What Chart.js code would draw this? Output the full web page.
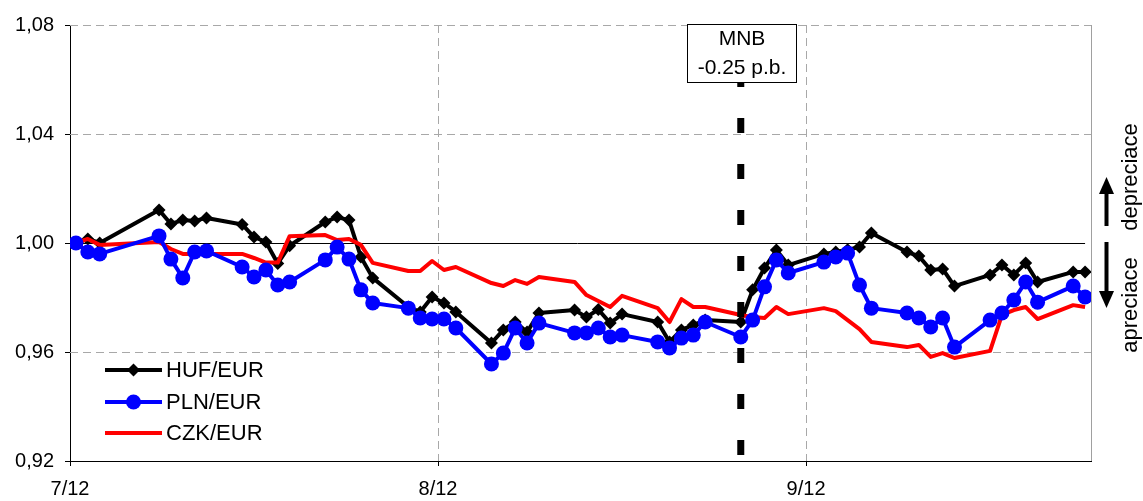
<!DOCTYPE html>
<html>
<head>
<meta charset="utf-8">
<script src="https://cdn.jsdelivr.net/npm/chart.js@4.4.1/dist/chart.umd.min.js"></script>
<style>
  html, body { margin: 0; padding: 0; background: #ffffff; }
  #wrap { width: 1143px; height: 501px; }
</style>
</head>
<body>
<div id="wrap"><canvas id="c" width="1143" height="501"></canvas></div>
<script>
const FONT = "'Liberation Sans', Arial, sans-serif";

// Trading days, counted from 1 July 2012 (= day 0)
const days = [1, 2, 3, 8, 9, 10, 11, 12, 15, 16, 17, 18, 19, 22, 23, 24, 25, 26,
  29, 30, 31, 32, 33, 36, 37, 38, 39, 40, 43, 44, 45, 46, 47, 50, 51, 52, 53, 54,
  57, 58, 59, 60, 61, 64, 65, 66, 67, 68, 71, 72, 73, 74, 75, 78, 79, 80, 81, 82, 85, 86];

// Exchange rates, index (2 July 2012 = 1)
const hufEur = [1.0000, 1.0015, 1.0000, 1.0121, 1.0070, 1.0084, 1.0081, 1.0092, 1.0068, 1.0022,
  1.0004, 0.9925, 0.9990, 1.0077, 1.0095, 1.0084, 0.9949, 0.9872,
  0.9765, 0.9747, 0.9802, 0.9780, 0.9747, 0.9633, 0.9681, 0.9710, 0.9673, 0.9743,
  0.9754, 0.9728, 0.9756, 0.9706, 0.9739, 0.9710, 0.9637, 0.9681, 0.9699, 0.9717,
  0.9710, 0.9828, 0.9908, 0.9974, 0.9919, 0.9960, 0.9967, 0.9975, 0.9985, 1.0037,
  0.9967, 0.9952, 0.9901, 0.9905, 0.9842, 0.9883, 0.9919, 0.9883, 0.9927, 0.9857, 0.9894, 0.9894];

const plnEur = [1.0000, 0.9967, 0.9960, 1.0026, 0.9941, 0.9872, 0.9967, 0.9971, 0.9912, 0.9875,
  0.9901, 0.9846, 0.9857, 0.9938, 0.9985, 0.9941, 0.9828, 0.9780,
  0.9761, 0.9725, 0.9721, 0.9721, 0.9688, 0.9556, 0.9596, 0.9688, 0.9633, 0.9706,
  0.9670, 0.9670, 0.9688, 0.9655, 0.9662, 0.9637, 0.9615, 0.9651, 0.9662, 0.9710,
  0.9655, 0.9717, 0.9839, 0.9938, 0.9890, 0.9930, 0.9949, 0.9963, 0.9846, 0.9761,
  0.9743, 0.9725, 0.9692, 0.9725, 0.9618, 0.9717, 0.9743, 0.9791, 0.9857, 0.9783, 0.9842, 0.9802];

const czkEur = [1.0000, 1.0015, 0.9993, 1.0004, 0.9978, 0.9960, 0.9960, 0.9960, 0.9960, 0.9945,
  0.9928, 0.9928, 1.0025, 1.0029, 1.0011, 1.0015, 0.9993, 0.9927,
  0.9897, 0.9897, 0.9934, 0.9901, 0.9912, 0.9853, 0.9842, 0.9864, 0.9850, 0.9875,
  0.9857, 0.9809, 0.9787, 0.9765, 0.9806, 0.9761, 0.9710, 0.9794, 0.9765, 0.9765,
  0.9736, 0.9728, 0.9725, 0.9765, 0.9739, 0.9761, 0.9750, 0.9717, 0.9684, 0.9637,
  0.9618, 0.9626, 0.9582, 0.9596, 0.9578, 0.9604, 0.9736, 0.9754, 0.9765, 0.9721, 0.9772, 0.9765];

const seriesNames = ['HUF/EUR', 'PLN/EUR', 'CZK/EUR'];

// Month boundaries on the day axis and their labels
const monthTicks = [0.5, 31.5, 62.5];
const monthLabels = ['7/12', '8/12', '9/12'];
const yTicks = [0.92, 0.96, 1.00, 1.04, 1.08];
const gridYValues = [0.96, 1.04, 1.08];
const baseValue = 1.00;

// Rate cut by the central bank
const mnbDay = 57;
const mnbText = ['MNB', '-0.25 p.b.'];
const sideLabels = ['depreciace', 'apreciace'];

const toPoints = vals => days.map((d, i) => ({ x: d, y: vals[i] }));

// Dashed grid, right frame and the 1,00 base line
const gridPlugin = {
  id: 'gridPlugin',
  beforeDatasetsDraw(chart) {
    const { ctx, chartArea: a, scales: { x, y } } = chart;
    ctx.save();
    ctx.strokeStyle = '#a8a8a8';
    ctx.lineWidth = 1;
    ctx.setLineDash([8, 5]);
    gridYValues.forEach(v => {
      const py = Math.round(y.getPixelForValue(v)) + 0.5;
      ctx.beginPath(); ctx.moveTo(a.left, py); ctx.lineTo(a.right, py); ctx.stroke();
    });
    monthTicks.slice(1).forEach(v => {
      const px = Math.round(x.getPixelForValue(v)) + 0.5;
      ctx.beginPath(); ctx.moveTo(px, a.top); ctx.lineTo(px, a.bottom); ctx.stroke();
    });
    ctx.setLineDash([]);
    ctx.strokeStyle = '#a0a0a0';
    const rx = Math.round(a.right) + 0.5;
    ctx.beginPath(); ctx.moveTo(rx, a.top); ctx.lineTo(rx, a.bottom); ctx.stroke();
    // base line at 1,00
    ctx.strokeStyle = '#000';
    const by = Math.round(y.getPixelForValue(baseValue)) + 0.5;
    ctx.beginPath();
    ctx.moveTo(a.left, by);
    ctx.lineTo(x.getPixelForValue(days[days.length - 1]), by);
    ctx.stroke();
    ctx.restore();
  }
};

// Rate-cut marker, side captions with arrows, and the legend
const notesPlugin = {
  id: 'notesPlugin',
  afterDatasetsDraw(chart) {
    const { ctx, chartArea: a, scales: { x } } = chart;
    ctx.save();

    // dashed marker line
    const lx = x.getPixelForValue(mnbDay);
    ctx.strokeStyle = '#000';
    ctx.lineWidth = 7;
    ctx.setLineDash([15, 31]);
    ctx.beginPath(); ctx.moveTo(lx, 72); ctx.lineTo(lx, a.bottom); ctx.stroke();
    ctx.setLineDash([]);

    // label box
    const bx = Math.round(lx) - 53.5, bw = 109, by = a.top - 0.5, bh = 58;
    ctx.fillStyle = '#fff';
    ctx.fillRect(bx, by, bw, bh);
    ctx.lineWidth = 1;
    ctx.strokeRect(bx, by, bw, bh);
    ctx.fillStyle = '#000';
    ctx.font = `21px ${FONT}`;
    ctx.textAlign = 'center';
    ctx.textBaseline = 'middle';
    ctx.fillText(mnbText[0], bx + bw / 2, by + 15);
    ctx.fillText(mnbText[1], bx + bw / 2, by + 44);

    // side captions
    ctx.font = `22px ${FONT}`;
    [[sideLabels[0], 177], [sideLabels[1], 305]].forEach(([t, cy]) => {
      ctx.save();
      ctx.translate(1131, cy);
      ctx.rotate(-Math.PI / 2);
      ctx.fillText(t, 0, 0);
      ctx.restore();
    });

    // arrows
    const ax = 1106.5;
    ctx.lineWidth = 4;
    ctx.beginPath(); ctx.moveTo(ax, 226); ctx.lineTo(ax, 192); ctx.stroke();
    ctx.beginPath(); ctx.moveTo(ax, 177); ctx.lineTo(ax - 7.5, 194); ctx.lineTo(ax + 7.5, 194); ctx.closePath(); ctx.fill();
    ctx.beginPath(); ctx.moveTo(ax, 242); ctx.lineTo(ax, 292); ctx.stroke();
    ctx.beginPath(); ctx.moveTo(ax, 308); ctx.lineTo(ax - 7.5, 291); ctx.lineTo(ax + 7.5, 291); ctx.closePath(); ctx.fill();

    // legend
    const rows = [370, 402, 433];
    const x0 = 105, x1 = 162, xm = (x0 + x1) / 2;
    chart.data.datasets.forEach((ds, i) => {
      const ly = rows[i];
      ctx.strokeStyle = ds.borderColor;
      ctx.fillStyle = ds.borderColor;
      ctx.lineWidth = 4;
      ctx.beginPath(); ctx.moveTo(x0, ly); ctx.lineTo(x1, ly); ctx.stroke();
      if (ds.pointStyle === 'circle') {
        ctx.beginPath(); ctx.arc(xm, ly, 7.5, 0, Math.PI * 2); ctx.fill();
      } else if (ds.pointStyle === 'rectRot') {
        ctx.beginPath();
        ctx.moveTo(xm, ly - 6.5); ctx.lineTo(xm + 6.5, ly); ctx.lineTo(xm, ly + 6.5); ctx.lineTo(xm - 6.5, ly);
        ctx.closePath(); ctx.fill();
      }
      ctx.fillStyle = '#000';
      ctx.font = `22px ${FONT}`;
      ctx.textAlign = 'left';
      ctx.textBaseline = 'middle';
      ctx.fillText(ds.label, 166, ly + 1);
    });
    ctx.restore();
  }
};

new Chart(document.getElementById('c'), {
  type: 'line',
  data: {
    datasets: [
      {
        label: seriesNames[0], data: toPoints(hufEur),
        borderColor: '#000000', backgroundColor: '#000000',
        borderWidth: 4, pointStyle: 'rectRot', pointRadius: 6.5, pointBorderWidth: 0,
        borderJoinStyle: 'round', tension: 0, order: 2
      },
      {
        label: seriesNames[1], data: toPoints(plnEur),
        borderColor: '#0000ff', backgroundColor: '#0000ff',
        borderWidth: 4, pointStyle: 'circle', pointRadius: 7.5, pointBorderWidth: 0,
        borderJoinStyle: 'round', tension: 0, order: 0
      },
      {
        label: seriesNames[2], data: toPoints(czkEur),
        borderColor: '#ff0000', backgroundColor: '#ff0000',
        borderWidth: 4, pointRadius: 0, pointStyle: false,
        borderJoinStyle: 'round', tension: 0, order: 1
      }
    ]
  },
  options: {
    responsive: false,
    animation: false,
    devicePixelRatio: 1,
    layout: { padding: { left: 0, right: 52, top: 25, bottom: 0 } },
    plugins: { legend: { display: false }, tooltip: { enabled: false } },
    elements: { point: { hitRadius: 0, hoverRadius: 0 } },
    scales: {
      x: {
        type: 'linear', min: 0.5, max: 86.5,
        afterBuildTicks: s => { s.ticks = monthTicks.map(v => ({ value: v })); },
        afterFit: s => { s.height = 40; },
        ticks: {
          callback: (v, i) => monthLabels[i],
          font: { family: FONT, size: 20 }, color: '#000',
          padding: 11, maxRotation: 0, autoSkip: false
        },
        grid: { drawOnChartArea: false, drawTicks: true, tickLength: 5, color: '#000' },
        border: { color: '#000', width: 1 }
      },
      y: {
        min: 0.92, max: 1.08,
        afterBuildTicks: s => { s.ticks = yTicks.map(v => ({ value: v })); },
        afterFit: s => { s.width = 70; },
        ticks: {
          callback: v => v.toFixed(2).replace('.', ','),
          font: { family: FONT, size: 20 }, color: '#000', padding: 11
        },
        grid: { drawOnChartArea: false, drawTicks: true, tickLength: 5, color: '#000' },
        border: { color: '#000', width: 1 }
      }
    }
  },
  plugins: [gridPlugin, notesPlugin]
});
</script>
</body>
</html>
